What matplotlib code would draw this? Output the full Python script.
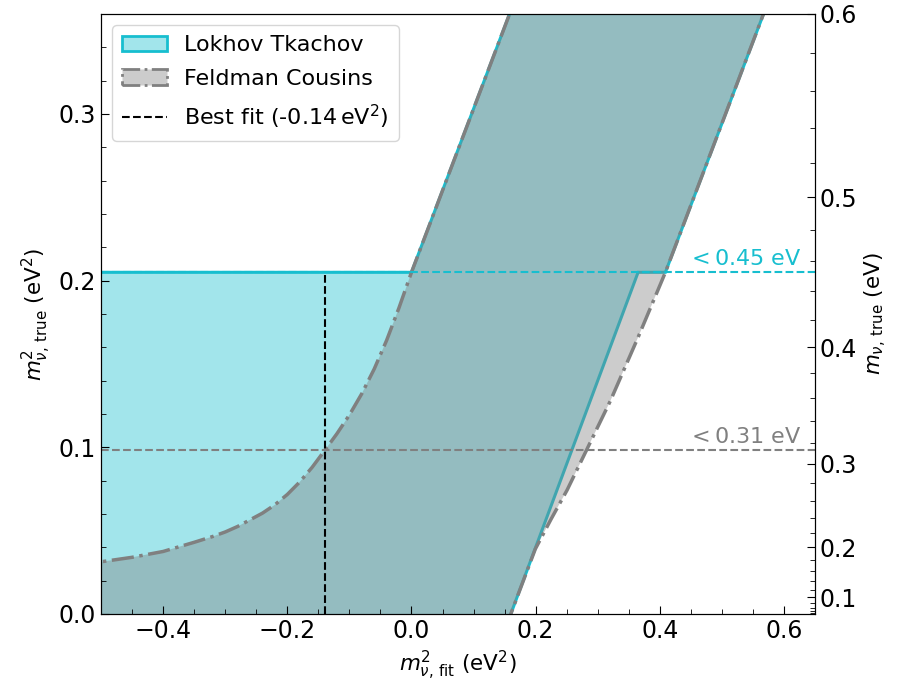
import numpy as np
import matplotlib.pyplot as plt
from matplotlib.ticker import MultipleLocator
from matplotlib.patches import Patch
from matplotlib.lines import Line2D

# Feldman-Cousins belt: left (lower) and right (upper) edges in (m2_fit, m2_true)
fc_left_x = [-0.60, -0.50, -0.45, -0.40, -0.35, -0.32, -0.30, -0.28, -0.26,
             -0.24, -0.22, -0.20, -0.18, -0.16, -0.14, -0.12, -0.10, -0.08,
             -0.06, -0.04, -0.02, 0.0, 0.158, 0.198]
fc_left_y = [0.026, 0.0313, 0.0340, 0.0375, 0.0430, 0.0465, 0.0492, 0.0525,
             0.0565, 0.0605, 0.0655, 0.0717, 0.0792, 0.0880, 0.0980, 0.1082,
             0.1194, 0.1322, 0.1470, 0.1642, 0.1838, 0.205, 0.36, 0.40]
fc_right_x = [0.140, 0.160, 0.1995, 0.225, 0.2506, 0.2818, 0.3205, 0.365, 0.409,
              0.567, 0.607]
fc_right_y = [-0.02, 0.0, 0.039, 0.057, 0.0743, 0.0982, 0.128, 0.166, 0.205,
              0.36, 0.40]

# Lokhov-Tkachov right edge below its upper limit
lt_right_x = [0.365, 0.160, 0.140]
lt_right_y = [0.205, 0.0, -0.02]

best_fit = -0.14
lt_limit = 0.205     # m2 limit, (0.45 eV)^2
fc_limit = 0.0982    # m2 limit, (0.31 eV)^2
lt_label = r'$<0.45$ eV'
fc_label = r'$<0.31$ eV'

m_major = [0.1, 0.2, 0.3, 0.4, 0.5, 0.6]
m_minor = np.arange(0.02, 0.6, 0.02)

cyan = '#17becf'
grey = 'grey'

plt.rcParams['font.size'] = 16

fig = plt.figure(figsize=(9.07, 6.86), dpi=100)
ax = fig.add_axes([0.1114, 0.105, 0.7872, 0.8746])

# LT region: everything left of the belt below lt_limit, belt above it
fl_x = np.array(fc_left_x); fl_y = np.array(fc_left_y)
fr_x = np.array(fc_right_x); fr_y = np.array(fc_right_y)
up_l = fl_y >= lt_limit
up_r = fr_y >= lt_limit
lt_x = ([-0.6, -0.6] + list(fl_x[up_l]) + list(fr_x[up_r][::-1]) + lt_right_x + [-0.6])
lt_y = ([-0.02, lt_limit] + list(fl_y[up_l]) + list(fr_y[up_r][::-1]) + lt_right_y + [-0.02])
ax.fill(lt_x, lt_y, facecolor=cyan, alpha=0.4, edgecolor='none')
ax.fill(lt_x, lt_y, facecolor='none', edgecolor=cyan, lw=2.2)

fc_x = list(fc_left_x) + list(fc_right_x[::-1]) + [-0.6]
fc_y = list(fc_left_y) + list(fc_right_y[::-1]) + [-0.02]
ax.fill(fc_x, fc_y, facecolor=grey, alpha=0.4, edgecolor='none')
ax.fill(fc_x, fc_y, facecolor='none', edgecolor=grey, lw=2.5, ls='-.')

ax.axhline(lt_limit, color=cyan, ls='--', lw=1.5, zorder=1)
ax.axhline(fc_limit, color=grey, ls='--', lw=1.5)
ax.vlines(best_fit, 0, lt_limit, color='k', ls='--', lw=1.5)

ax.text(0.628, lt_limit + 0.002, lt_label, color=cyan, ha='right', va='bottom')
ax.text(0.628, fc_limit + 0.002, fc_label, color=grey, ha='right', va='bottom')

ax.set_xlim(-0.5, 0.65)
ax.set_ylim(0, 0.36)
ax.xaxis.set_major_locator(MultipleLocator(0.2))
ax.xaxis.set_minor_locator(MultipleLocator(0.05))
ax.yaxis.set_major_locator(MultipleLocator(0.1))
ax.yaxis.set_minor_locator(MultipleLocator(0.02))
ax.tick_params(which='both', direction='in', labelsize=17)
ax.tick_params(which='major', length=6)
ax.tick_params(which='minor', length=3.5)
ax.set_xlabel(r'$m^2_{\nu,\,\mathrm{fit}}$ (eV$^2$)', fontsize=15.5)
ax.set_ylabel(r'$m^2_{\nu,\,\mathrm{true}}$ (eV$^2$)', fontsize=15.5)

# legend handles
handles = [Patch(facecolor=(0.09, 0.745, 0.812, 0.4), edgecolor=cyan, lw=2),
           Patch(facecolor=(0.5, 0.5, 0.5, 0.4), edgecolor=grey, lw=2, ls='-.'),
           Line2D([], [], color='k', ls='--', lw=1.5)]
labels = ['Lokhov Tkachov', 'Feldman Cousins', r'Best fit (-0.14$\,$eV$^2$)']
ax.legend(handles, labels, loc='upper left', labelspacing=0.62, borderpad=0.45)

# right axis in m (eV)
ax2 = ax.twinx()
ax2.set_ylim(ax.get_ylim())
ax2.set_yticks([m**2 for m in m_major])
ax2.set_yticklabels(['%.1f' % m for m in m_major])
ax2.set_yticks([m**2 for m in m_minor], minor=True)
ax2.tick_params(which='both', direction='in', labelsize=17)
ax2.tick_params(which='major', length=6)
ax2.tick_params(which='minor', length=3.5)
ax2.set_ylabel(r'$m_{\nu,\,\mathrm{true}}$ (eV)', fontsize=15.5)

fig.savefig('out.png', dpi=100)
